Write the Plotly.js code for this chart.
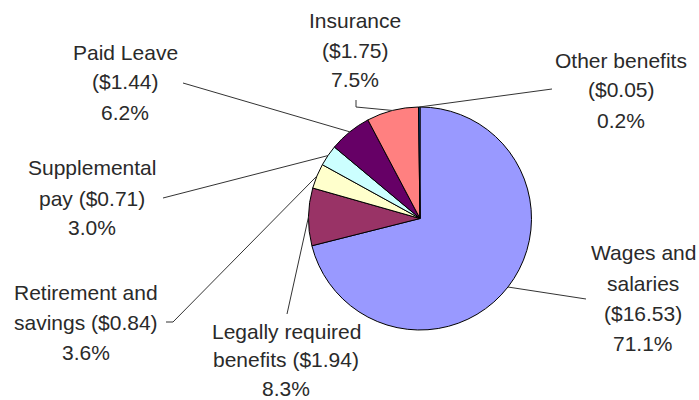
<!DOCTYPE html>
<html><head><meta charset="utf-8">
<script src="https://cdn.plot.ly/plotly-3.0.1.min.js"></script>
<style>html,body{margin:0;padding:0;background:#fff}</style>
</head><body><div id="chart" style="width:699px;height:400px"></div>
<script>
// ---- data ----
const categories = ["Wages and salaries","Legally required benefits","Retirement and savings","Supplemental pay","Paid Leave","Insurance","Other benefits"];
const costs = [16.53, 1.94, 0.84, 0.71, 1.44, 1.75, 0.05];
const percents = [71.1, 8.3, 3.6, 3.0, 6.2, 7.5, 0.2];
const labelLines = [["Wages and","salaries","{$}"],["Legally required","benefits {$}"],["Retirement and","savings {$}"],["Supplemental","pay {$}"],["Paid Leave","{$}"],["Insurance","{$}"],["Other benefits","{$}"]];
const colors = ["#9999FF","#993366","#FFFFCC","#CCFFFF","#660066","#FF8080","#0066CC"];

// ---- layout helpers (pixel positions of labels, not data) ----
const W = 699, H = 400;
const pie = {x0: 308, x1: 532, y0: 107, y1: 330};
const labelPos = [[643,253],[286,331],[86,292],[92,168],[125,52],[355,20],[621,60]];
const lineGaps = [30,28.5,30,30,30,30,30];
const leaderPts = [[[586,299]], [[287,314]], [[166,322],[173,322]], [[163,198]], [[183,83]], [[356,100],[356,107]], [[552,89]]];

const px = x => x / W, py = y => 1 - y / H;
const cx = (pie.x0 + pie.x1) / 2, cy = (pie.y0 + pie.y1) / 2;
const r = Math.min(pie.x1 - pie.x0, pie.y1 - pie.y0) / 2;
const total = costs.reduce((a, b) => a + b, 0);

const annotations = [];
const shapes = [];
let cum = 0;
costs.forEach((c, i) => {
  const mid = (cum + c / 2) / total * 2 * Math.PI;
  cum += c;
  const ex = cx + r * Math.sin(mid), ey = cy - r * Math.cos(mid);
  const lines = labelLines[i].map(s => s.replace("{$}", "($" + c.toFixed(2) + ")"));
  lines.push(percents[i].toFixed(1) + "%");
  lines.forEach((t, k) => {
    annotations.push({
      x: px(labelPos[i][0]), y: py(labelPos[i][1] + k * lineGaps[i]),
      xref: "paper", yref: "paper", xanchor: "center", yanchor: "middle",
      text: t, showarrow: false,
      font: {family: "Liberation Sans, Arial, sans-serif", size: 21, color: "#2a2a2a"}
    });
  });
  const pts = leaderPts[i].concat([[ex, ey]]);
  const path = pts.map((p, k) => (k ? "L" : "M") + px(p[0]) + "," + py(p[1])).join(" ");
  shapes.push({type: "path", xref: "paper", yref: "paper", path: path, line: {color: "#333", width: 1}});
});

const trace = {
  type: "pie", labels: categories, values: costs, sort: false,
  direction: "clockwise", rotation: 0, textinfo: "none", hoverinfo: "none",
  marker: {colors: colors, line: {color: "#000", width: 1}},
  domain: {x: [px(pie.x0), px(pie.x1)], y: [py(pie.y1), py(pie.y0)]}
};

const layout = {
  width: W, height: H, margin: {l: 0, r: 0, t: 0, b: 0},
  showlegend: false, paper_bgcolor: "#fff",
  annotations: annotations, shapes: shapes
};
Plotly.newPlot("chart", [trace], layout, {staticPlot: true});
</script></body></html>
